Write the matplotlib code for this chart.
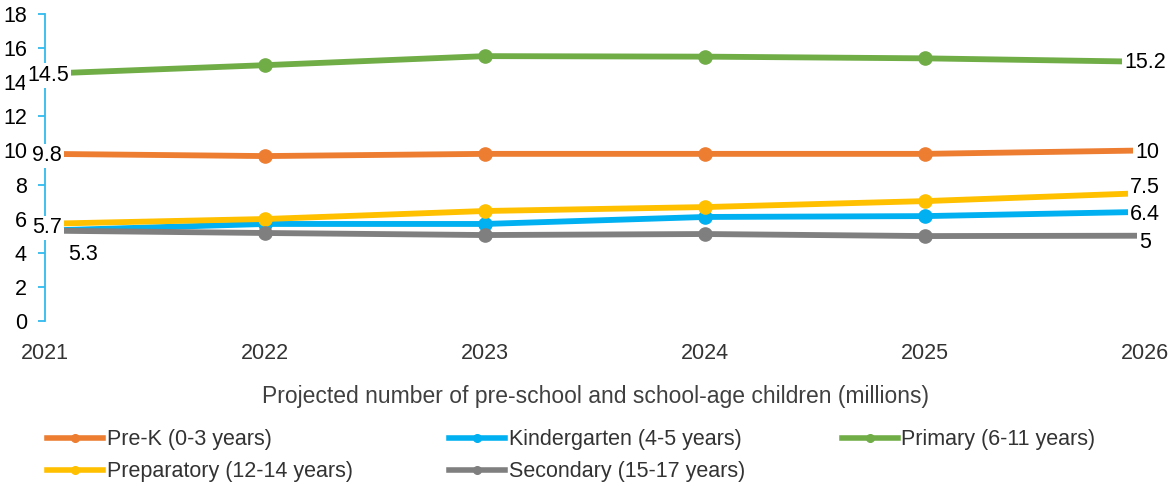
import matplotlib
matplotlib.use('Agg')
import matplotlib.pyplot as plt
from matplotlib.lines import Line2D

plt.rcParams['font.family'] = ['Liberation Sans', 'DejaVu Sans']

# Projected children by education stage (millions)
years = [2021, 2022, 2023, 2024, 2025, 2026]
pre_k = [9.8, 9.67, 9.8, 9.8, 9.8, 10.0]
kindergarten = [5.3, 5.69, 5.69, 6.1, 6.15, 6.4]
primary = [14.5, 15.0, 15.53, 15.5, 15.4, 15.2]
preparatory = [5.7, 5.98, 6.45, 6.68, 7.03, 7.5]
secondary = [5.3, 5.16, 5.04, 5.1, 4.98, 5.0]

series = [
    ('Pre-K (0-3 years)', pre_k, '#ED7D31'),
    ('Kindergarten (4-5 years)', kindergarten, '#00B0F0'),
    ('Primary (6-11 years)', primary, '#70AD47'),
    ('Preparatory (12-14 years)', preparatory, '#FFC000'),
    ('Secondary (15-17 years)', secondary, '#7F7F7F'),
]

# end-point labels: (series index, point index, text, dx px, dy px)
end_labels = [
    (2, 0, '14.5', 3, -2), (0, 0, '9.8', 2, -2), (3, 0, '5.7', 2, -4),
    (4, 0, '5.3', 38, -24),
    (2, -1, '15.2', 0, -1), (0, -1, '10', 2, -2), (3, -1, '7.5', 0, 6),
    (1, -1, '6.4', 0, -3), (4, -1, '5', 0, -7),
]

FS = 15.5

fig = plt.figure(figsize=(11.7, 4.86), dpi=100)
ax = fig.add_axes([45 / 1170, 1 - 321 / 486, 1100 / 1170, 307 / 486])

for name, vals, col in series:
    ax.plot(years, vals, color=col, lw=4.2, marker='o', markersize=9.5,
            markevery=slice(1, -1), solid_capstyle='butt', clip_on=False, zorder=2)

for si, pi, txt, dx, dy in end_labels:
    vals = series[si][1]
    ax.annotate(txt, (years[pi], vals[pi]), xytext=(dx * 0.72, dy * 0.72),
                textcoords='offset points', ha='center', va='center',
                fontsize=FS, color='black', zorder=5, annotation_clip=False,
                bbox=dict(boxstyle='square,pad=0.08', fc='white', ec='none'))

ax.set_xlim(2021, 2026)
ax.set_ylim(0, 18)
ax.set_yticks(range(0, 19, 2))
ax.set_xticks(years)
for s in ['top', 'right', 'bottom']:
    ax.spines[s].set_visible(False)
ax.spines['left'].set_color('#33BBEE')
ax.spines['left'].set_linewidth(1.3)
ax.tick_params(axis='y', colors='#33BBEE', labelcolor='black', length=5,
               width=1.3, labelsize=FS, pad=8)
ax.tick_params(axis='x', length=0, labelsize=FS, labelcolor='#333333', pad=16)

ax.set_xlabel('Projected number of pre-school and school-age children (millions)',
              fontsize=16.5, color='#404040', labelpad=15)

# legend is filled column by column, so reorder to read row by row
order = [0, 3, 1, 4, 2]
handles = [Line2D([], [], color=series[i][2], lw=4, marker='o', markersize=5.5)
           for i in order]
labels = [series[i][0] for i in order]
fig.legend(handles, labels, loc='upper left',
           bbox_to_anchor=(28 / 1170, 1 - 410 / 486), ncol=3, frameon=False,
           fontsize=FS, labelcolor='#333333', handlelength=2.6,
           handletextpad=0.15, columnspacing=4.5, labelspacing=0.5)

fig.savefig('out.png', dpi=100)
